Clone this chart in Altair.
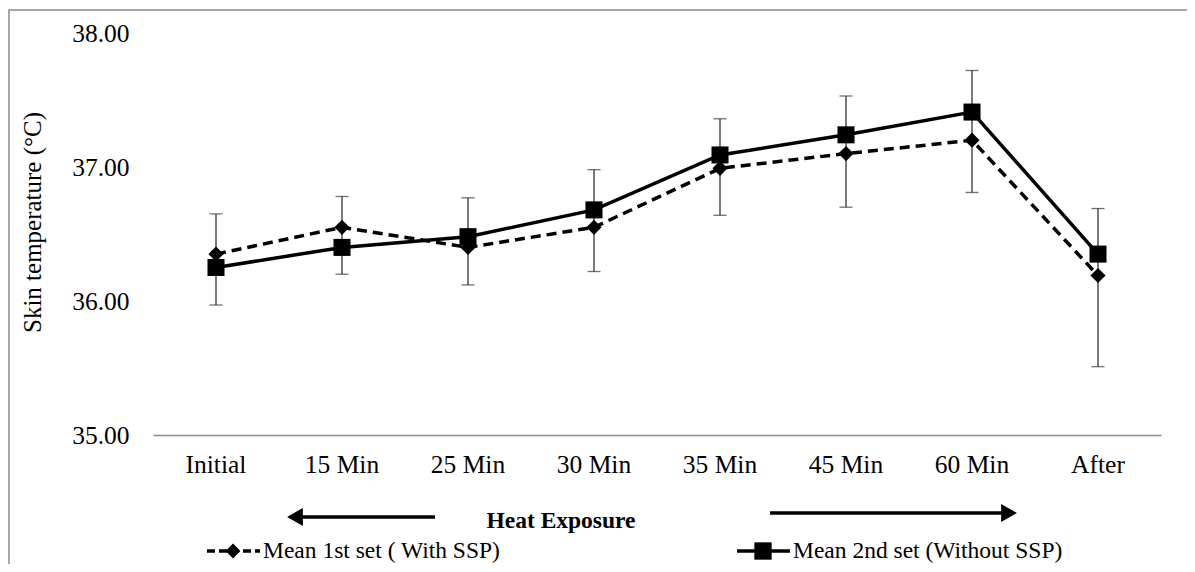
import altair as alt
import pandas as pd

categories = ["Initial", "15 Min", "25 Min", "30 Min", "35 Min", "45 Min", "60 Min", "After"]
mean_with_ssp = [36.35, 36.55, 36.40, 36.55, 36.99, 37.10, 37.20, 36.19]
mean_without_ssp = [36.25, 36.40, 36.48, 36.68, 37.09, 37.24, 37.41, 36.35]
err_low = [35.97, 36.20, 36.12, 36.22, 36.64, 36.70, 36.81, 35.51]
err_high = [36.65, 36.78, 36.77, 36.98, 37.36, 37.53, 37.72, 36.69]

FONT = "Liberation Serif"
W, H = 1008, 402

df1 = pd.DataFrame({"cat": categories, "val": mean_with_ssp})
df2 = pd.DataFrame({"cat": categories, "val": mean_without_ssp})
dfe = pd.DataFrame({"cat": categories, "lo": err_low, "hi": err_high})
one = pd.DataFrame({"a": [0]})

xenc = alt.X("cat:N", sort=categories, title=None,
             scale=alt.Scale(paddingInner=0, paddingOuter=0),
             axis=alt.Axis(labelAngle=0, ticks=False, labelPadding=17,
                           domainColor="#898989", domainWidth=1.3,
                           labelFont=FONT, labelFontSize=25.5, labelColor="black"))
yscale = alt.Scale(domain=[35, 38], nice=False, zero=False)
yenc = alt.Y("val:Q", scale=yscale,
             axis=alt.Axis(values=[35, 36, 37, 38], format=".2f", domain=False, ticks=False,
                           grid=False, labelPadding=24, labelFont=FONT, labelFontSize=25.5,
                           labelColor="black", title="Skin temperature (°C)",
                           titleFont=FONT, titleFontSize=25, titleFontWeight="normal",
                           titleColor="black", titleX=-121, titleY=H / 2 - 12,
                           titleAngle=-90, titleAlign="center", titleBaseline="middle"))

border = alt.Chart(one).mark_rect(fill=None, stroke="#8c8c8c", strokeWidth=1.5).encode(
    x=alt.value(-144), x2=alt.value(1200), y=alt.value(-23), y2=alt.value(700))

err_rule = alt.Chart(dfe).mark_rule(color="#333", strokeWidth=1.3).encode(
    x=alt.X("cat:N", sort=categories), y=alt.Y("lo:Q", scale=yscale), y2="hi:Q")
cap_lo = alt.Chart(dfe).mark_tick(color="#333", thickness=1.3, size=13).encode(
    x=alt.X("cat:N", sort=categories), y=alt.Y("lo:Q", scale=yscale))
cap_hi = alt.Chart(dfe).mark_tick(color="#333", thickness=1.3, size=13).encode(
    x=alt.X("cat:N", sort=categories), y=alt.Y("hi:Q", scale=yscale))

line1 = alt.Chart(df1).mark_line(color="black", strokeWidth=3.5, strokeDash=[10, 6]).encode(
    x=xenc, y=yenc)
line2 = alt.Chart(df2).mark_line(color="black", strokeWidth=3.5).encode(
    x=alt.X("cat:N", sort=categories), y=alt.Y("val:Q", scale=yscale))
pts1 = alt.Chart(df1).mark_point(shape="diamond", filled=True, color="black", size=230, opacity=1).encode(
    x=alt.X("cat:N", sort=categories), y=alt.Y("val:Q", scale=yscale))
pts2 = alt.Chart(df2).mark_point(shape="square", filled=True, color="black", size=290, opacity=1).encode(
    x=alt.X("cat:N", sort=categories), y=alt.Y("val:Q", scale=yscale))

# annotation: heat exposure arrows
heat_text = alt.Chart(one).mark_text(text="Heat Exposure", font=FONT, fontSize=23.5, fontWeight="bold",
                                     color="black", align="center", baseline="middle").encode(
    x=alt.value(408), y=alt.value(488))
arrow_l = alt.Chart(one).mark_rule(color="black", strokeWidth=3.5).encode(
    x=alt.value(142), x2=alt.value(282), y=alt.value(484))
head_l = alt.Chart(one).mark_point(shape="triangle-left", filled=True, color="black", size=330, opacity=1).encode(
    x=alt.value(142), y=alt.value(484))
arrow_r = alt.Chart(one).mark_rule(color="black", strokeWidth=3.5).encode(
    x=alt.value(617), x2=alt.value(856), y=alt.value(480))
head_r = alt.Chart(one).mark_point(shape="triangle-right", filled=True, color="black", size=330, opacity=1).encode(
    x=alt.value(856), y=alt.value(480))

# legend
LY = 518
leg1_line = alt.Chart(one).mark_rule(color="black", strokeWidth=3.5, strokeDash=[8, 4]).encode(
    x=alt.value(54), x2=alt.value(107), y=alt.value(LY))
leg1_pt = alt.Chart(one).mark_point(shape="diamond", filled=True, color="black", size=220, opacity=1).encode(
    x=alt.value(80), y=alt.value(LY))
leg1_txt = alt.Chart(one).mark_text(text="Mean 1st set ( With SSP)", font=FONT, fontSize=23.5, color="black",
                                    align="left", baseline="middle").encode(
    x=alt.value(110), y=alt.value(LY))
leg2_line = alt.Chart(one).mark_rule(color="black", strokeWidth=3.5).encode(
    x=alt.value(584), x2=alt.value(637), y=alt.value(LY))
leg2_pt = alt.Chart(one).mark_point(shape="square", filled=True, color="black", size=300, opacity=1).encode(
    x=alt.value(610), y=alt.value(LY))
leg2_txt = alt.Chart(one).mark_text(text="Mean 2nd set (Without SSP)", font=FONT, fontSize=23.5, color="black",
                                    align="left", baseline="middle").encode(
    x=alt.value(640), y=alt.value(LY))

chart = alt.layer(
    border, line1, line2, err_rule, cap_lo, cap_hi, pts1, pts2,
    heat_text, arrow_l, head_l, arrow_r, head_r,
    leg1_line, leg1_pt, leg1_txt, leg2_line, leg2_pt, leg2_txt,
).properties(
    width=W, height=H,
    autosize=alt.AutoSizeParams(type="none"),
    padding={"left": 145, "top": 25, "right": 26, "bottom": 129},
).configure(background="white", view=alt.ViewConfig(stroke=None))

chart.save("out.html", embed_options={"renderer": "svg", "actions": False})
